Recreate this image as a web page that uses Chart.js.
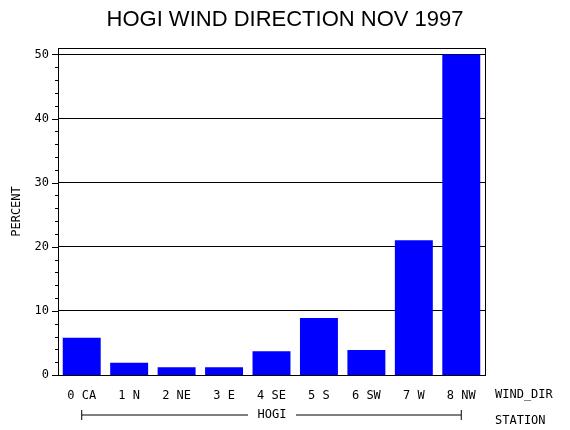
<!DOCTYPE html>
<html>
<head>
<meta charset="utf-8">
<script src="https://cdn.jsdelivr.net/npm/chart.js@4"></script>
<style>
  body { margin: 0; background: #fff; }
  #wrap { width: 570px; height: 430px; }
</style>
</head>
<body>
<div id="wrap"><canvas id="c" width="570" height="430"></canvas></div>
<script>
/* data */
const categories = ['0 CA', '1 N', '2 NE', '3 E', '4 SE', '5 S', '6 SW', '7 W', '8 NW'];
const percent = [5.8, 1.9, 1.2, 1.2, 3.7, 8.9, 3.9, 21.0, 50.0];
const yTicks = [0, 10, 20, 30, 40, 50];
const chartTitle = 'HOGI WIND DIRECTION NOV 1997';
const xName = 'WIND_DIR';
const groupName = 'HOGI';
const groupAxis = 'STATION';
const yName = 'PERCENT';

const MONO = '"DejaVu Sans Mono", monospace';

/* extra text + bracket drawn around the plot */
const decor = {
  id: 'decor',
  afterDraw(chart) {
    const ctx = chart.ctx, a = chart.chartArea;
    ctx.save();
    ctx.fillStyle = '#000';
    ctx.strokeStyle = '#000';
    ctx.lineWidth = 1;
    // title
    ctx.font = '22px "Liberation Sans", sans-serif';
    ctx.textAlign = 'center';
    ctx.textBaseline = 'middle';
    ctx.fillText(chartTitle, 285, 20);
    // plot frame
    ctx.strokeRect(a.left + 0.5, a.top + 0.5, a.right - a.left, a.bottom - a.top);
    // y title
    ctx.font = '12px ' + MONO;
    ctx.save();
    ctx.translate(17, (a.top + a.bottom) / 2);
    ctx.rotate(-Math.PI / 2);
    ctx.fillText(yName, 0, 0);
    ctx.restore();
    // x names
    ctx.textAlign = 'left';
    ctx.fillText(xName, a.right + 10, 395);
    ctx.fillText(groupAxis, a.right + 10, 421);
    // station bracket
    const xs = chart.scales.x;
    const x0 = xs.getPixelForValue(0), x1 = xs.getPixelForValue(categories.length - 1);
    const yb = 415;
    ctx.beginPath();
    ctx.moveTo(x0, yb - 5); ctx.lineTo(x0, yb + 5);
    ctx.moveTo(x1, yb - 5); ctx.lineTo(x1, yb + 5);
    ctx.moveTo(x0, yb); ctx.lineTo(248, yb);
    ctx.moveTo(296, yb); ctx.lineTo(x1, yb);
    ctx.stroke();
    ctx.textAlign = 'center';
    ctx.fillText(groupName, 272, yb);
    // y minor ticks
    const ys = chart.scales.y;
    ctx.beginPath();
    for (let v = 0; v <= 50; v += 2) {
      const y = Math.round(ys.getPixelForValue(v)) + 0.5;
      ctx.moveTo(a.left - (v % 10 === 0 ? 6 : 3), y);
      ctx.lineTo(a.left, y);
    }
    ctx.stroke();
    ctx.restore();
  }
};

new Chart(document.getElementById('c'), {
  type: 'bar',
  data: {
    labels: categories,
    datasets: [{ data: percent, backgroundColor: '#0000ff', borderWidth: 0,
                 barPercentage: 0.8, categoryPercentage: 1.0 }]
  },
  options: {
    responsive: false,
    animation: false,
    layout: { padding: { top: 48, right: 85, left: 0, bottom: 0 } },
    plugins: { legend: { display: false }, tooltip: { enabled: false } },
    scales: {
      x: {
        grid: { display: false },
        border: { display: false },
        ticks: { color: '#000', font: { family: MONO, size: 12 }, maxRotation: 0, padding: 6 },
        afterFit(s) { s.height = 55; }
      },
      y: {
        min: 0, max: 51,
        afterBuildTicks(s) { s.ticks = yTicks.map(v => ({ value: v })); },
        grid: { color: '#000', drawTicks: false, lineWidth: c => (c.tick.value === 0 ? 0 : 1) },
        border: { display: false },
        ticks: { color: '#000', font: { family: MONO, size: 12 }, padding: 9 },
        afterFit(s) { s.width = 58; }
      }
    }
  },
  plugins: [decor]
});
</script>
</body>
</html>
